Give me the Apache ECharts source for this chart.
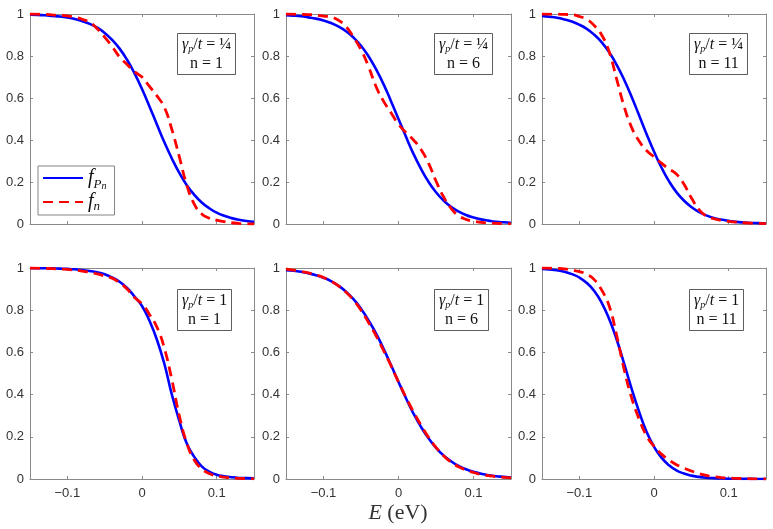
<!DOCTYPE html>
<html>
<head>
<meta charset="utf-8">
<script src="https://cdn.jsdelivr.net/npm/echarts@6/dist/echarts.min.js"></script>
<style>
  html, body { margin: 0; padding: 0; background: #fff; }
  #main { width: 773px; height: 529px; }
</style>
</head>
<body>
<div id="main"></div>
<script>
// energy grid (eV)
const E = [-0.15, -0.14, -0.13, -0.12, -0.11, -0.10, -0.09, -0.08, -0.07, -0.06, -0.05,
  -0.04, -0.03, -0.02, -0.01, 0.00, 0.01, 0.02, 0.03, 0.04, 0.05,
  0.06, 0.07, 0.08, 0.09, 0.10, 0.11, 0.12, 0.13, 0.14, 0.15];

// gamma_p/t = 1/4
const fP_quarter_n1 = [0.997, 0.996, 0.994, 0.991, 0.988, 0.983, 0.976, 0.966, 0.953, 0.935, 0.910,
  0.877, 0.835, 0.782, 0.717, 0.643, 0.560, 0.474, 0.389, 0.312, 0.243,
  0.185, 0.139, 0.102, 0.075, 0.054, 0.039, 0.028, 0.020, 0.014, 0.010];
const f_quarter_n1 = [1.0, 0.999, 0.998, 0.996, 0.994, 0.991, 0.985, 0.975, 0.96, 0.93, 0.89,
  0.845, 0.795, 0.76, 0.725, 0.70, 0.655, 0.61, 0.555, 0.45, 0.32,
  0.185, 0.095, 0.048, 0.028, 0.018, 0.011, 0.006, 0.003, 0.001, 0.0];
const fP_quarter_n6 = [0.994, 0.992, 0.989, 0.984, 0.978, 0.969, 0.957, 0.940, 0.918, 0.888, 0.849,
  0.799, 0.737, 0.666, 0.585, 0.500, 0.415, 0.334, 0.263, 0.201, 0.151,
  0.112, 0.082, 0.060, 0.043, 0.031, 0.022, 0.016, 0.011, 0.008, 0.006];
const f_quarter_n6 = [1.0, 0.999, 0.998, 0.997, 0.995, 0.99, 0.985, 0.97, 0.94, 0.89, 0.83,
  0.75, 0.655, 0.585, 0.53, 0.475, 0.435, 0.40, 0.355, 0.29, 0.205,
  0.13, 0.075, 0.04, 0.022, 0.013, 0.008, 0.005, 0.003, 0.002, 0.001];
const fP_quarter_n11 = [0.991, 0.987, 0.982, 0.974, 0.964, 0.949, 0.929, 0.901, 0.865, 0.818, 0.758,
  0.687, 0.606, 0.518, 0.429, 0.345, 0.269, 0.204, 0.152, 0.112, 0.081,
  0.058, 0.041, 0.029, 0.021, 0.015, 0.010, 0.007, 0.005, 0.004, 0.002];
const f_quarter_n11 = [1.0, 0.999, 0.999, 0.998, 0.997, 0.988, 0.975, 0.945, 0.90, 0.82, 0.69,
  0.56, 0.46, 0.395, 0.35, 0.32, 0.29, 0.262, 0.238, 0.19, 0.125,
  0.07, 0.038, 0.025, 0.018, 0.013, 0.009, 0.006, 0.004, 0.003, 0.002];

// gamma_p/t = 1
const fP_one_n1 = [1.0, 0.999, 0.999, 0.998, 0.997, 0.996, 0.994, 0.99, 0.986, 0.98, 0.97,
  0.955, 0.935, 0.905, 0.865, 0.82, 0.75, 0.66, 0.545, 0.40, 0.275,
  0.168, 0.105, 0.06, 0.035, 0.02, 0.013, 0.008, 0.005, 0.004, 0.003];
const f_one_n1 = [1.0, 0.999, 0.998, 0.997, 0.995, 0.993, 0.99, 0.985, 0.98, 0.972, 0.962,
  0.952, 0.93, 0.90, 0.86, 0.83, 0.78, 0.72, 0.62, 0.47, 0.30,
  0.17, 0.09, 0.048, 0.026, 0.015, 0.009, 0.005, 0.003, 0.002, 0.001];
const fP_one_n6 = [0.990, 0.987, 0.982, 0.975, 0.966, 0.954, 0.938, 0.916, 0.888, 0.852, 0.807,
  0.752, 0.690, 0.618, 0.540, 0.460, 0.383, 0.310, 0.247, 0.193, 0.148,
  0.112, 0.084, 0.062, 0.046, 0.034, 0.025, 0.018, 0.013, 0.010, 0.007];
const f_one_n6 = [0.995, 0.99, 0.984, 0.977, 0.967, 0.955, 0.938, 0.915, 0.885, 0.848, 0.80,
  0.742, 0.68, 0.61, 0.537, 0.46, 0.387, 0.318, 0.255, 0.198, 0.15,
  0.11, 0.08, 0.058, 0.043, 0.031, 0.022, 0.016, 0.011, 0.008, 0.006];
const fP_one_n11 = [0.996, 0.993, 0.989, 0.982, 0.971, 0.955, 0.929, 0.891, 0.835, 0.758, 0.661,
  0.547, 0.428, 0.319, 0.224, 0.153, 0.101, 0.065, 0.041, 0.026, 0.016,
  0.010, 0.006, 0.004, 0.0025, 0.0015, 0.001, 0.0006, 0.0004, 0.0002, 0.0001];
const f_one_n11 = [1.0, 0.999, 0.998, 0.996, 0.99, 0.983, 0.97, 0.945, 0.895, 0.82, 0.68,
  0.52, 0.385, 0.285, 0.205, 0.155, 0.118, 0.09, 0.068, 0.052, 0.038,
  0.026, 0.017, 0.011, 0.007, 0.005, 0.003, 0.002, 0.001, 0.0005, 0.0];

const xTicks = [-0.1, 0, 0.1];
const xTickLabels = ['\u22120.1', '0', '0.1'];

const panels = [
  {blue: fP_quarter_n1, red: f_quarter_n1, gamma: '\u00bc', n: '1'},
  {blue: fP_quarter_n6, red: f_quarter_n6, gamma: '\u00bc', n: '6'},
  {blue: fP_quarter_n11, red: f_quarter_n11, gamma: '\u00bc', n: '11'},
  {blue: fP_one_n1, red: f_one_n1, gamma: '1', n: '1'},
  {blue: fP_one_n6, red: f_one_n6, gamma: '1', n: '6'},
  {blue: fP_one_n11, red: f_one_n11, gamma: '1', n: '11'}
];

// layout of the 2x3 panels (px)
const colLeft = [30, 286, 542];
const colWidth = [224, 225, 224];
const rowTop = [14, 268];
const rowHeight = [210, 211];

const axisColor = '#8a8a8a';
const labelStyle = {fontFamily: 'Liberation Sans, Arial, sans-serif', fontSize: 13, color: '#333'};
const serif = 'Liberation Serif, DejaVu Serif, serif';

const grids = [], xAxes = [], yAxes = [], series = [], titles = [];

panels.forEach((p, i) => {
  const row = Math.floor(i / 3), col = i % 3;
  grids.push({left: colLeft[col], top: rowTop[row], width: colWidth[col], height: rowHeight[row]});
  ['bottom', 'top'].forEach((pos) => {
    xAxes.push({
      type: 'value', gridIndex: i, position: pos, min: -0.15, max: 0.15,
      axisLine: {show: true, onZero: false, lineStyle: {color: axisColor, width: 1}},
      axisTick: {show: true, inside: true, length: 3, customValues: xTicks, lineStyle: {color: axisColor}},
      axisLabel: {
        show: pos === 'bottom' && row === 1, customValues: xTicks, margin: 8, ...labelStyle,
        formatter: (v) => xTickLabels[xTicks.findIndex((t) => Math.abs(t - v) < 1e-9)]
      },
      splitLine: {show: false}
    });
  });
  ['left', 'right'].forEach((pos) => {
    yAxes.push({
      type: 'value', gridIndex: i, position: pos, min: 0, max: 1, interval: 0.2,
      axisLine: {show: true, onZero: false, lineStyle: {color: axisColor, width: 1}},
      axisTick: {show: true, inside: true, length: 3, lineStyle: {color: axisColor}},
      axisLabel: {show: pos === 'left', margin: 6, ...labelStyle},
      splitLine: {show: false}
    });
  });
  series.push({
    name: 'fPn', type: 'line', xAxisIndex: 2 * i, yAxisIndex: 2 * i, symbol: 'none', smooth: true,
    lineStyle: {color: '#0000ff', width: 2.6}, itemStyle: {color: '#0000ff'},
    data: E.map((e, k) => [e, p.blue[k]]), z: 2
  });
  series.push({
    name: 'fn', type: 'line', xAxisIndex: 2 * i, yAxisIndex: 2 * i, symbol: 'none', smooth: true,
    lineStyle: {color: '#ff0000', width: 2.8, type: [10, 6]}, itemStyle: {color: '#ff0000'},
    data: E.map((e, k) => [e, p.red[k]]), z: 3
  });
  const txt = {fontFamily: serif, fontWeight: 'normal', color: '#111', lineHeight: 19, align: 'center'};
  titles.push({
    left: colLeft[col] + colWidth[col] - 77,
    top: rowTop[row] + (row === 0 ? 18 : 20),
    text: '{g|\u03b3}{s|p}{r|/}{g|t}{r| = ' + p.gamma + '}\n{r|n = ' + p.n + '}',
    borderColor: '#333', borderWidth: 0.8, padding: [3, 5, 3, 5], backgroundColor: '#fff',
    textStyle: {
      fontWeight: 'normal',
      rich: {
        g: {...txt, fontStyle: 'italic', fontSize: 16},
        s: {...txt, fontStyle: 'italic', fontSize: 10, verticalAlign: 'bottom'},
        r: {...txt, fontSize: 16}
      }
    }
  });
});

const chart = echarts.init(document.getElementById('main'));
chart.setOption({
  animation: false,
  backgroundColor: '#fff',
  grid: grids,
  xAxis: xAxes,
  yAxis: yAxes,
  title: titles,
  legend: {
    data: ['fPn', 'fn'],
    left: 38, top: 166, orient: 'vertical',
    itemWidth: 40, itemHeight: 14, itemGap: 1,
    padding: [2, 8, 2, 4],
    borderColor: '#666', borderWidth: 0.8, backgroundColor: '#fff',
    selectedMode: false,
    itemStyle: {opacity: 0},
    formatter: (name) => (name === 'fPn' ? '{f|f}{s|P}{ss|n}' : '{f|f}{s|n}'),
    textStyle: {
      rich: {
        f: {fontFamily: serif, fontStyle: 'italic', fontSize: 20, color: '#111', lineHeight: 22},
        s: {fontFamily: serif, fontStyle: 'italic', fontSize: 13, color: '#111', lineHeight: 22, verticalAlign: 'bottom'},
        ss: {fontFamily: serif, fontStyle: 'italic', fontSize: 10, color: '#111', lineHeight: 26, verticalAlign: 'bottom'}
      }
    }
  },
  graphic: [{
    type: 'text', x: 398, y: 513,
    style: {
      text: '{i|E}{r| (eV)}', align: 'center', verticalAlign: 'middle',
      rich: {
        i: {fontFamily: serif, fontStyle: 'italic', fontSize: 22, fill: '#333'},
        r: {fontFamily: serif, fontSize: 22, fill: '#333'}
      }
    }
  }],
  series: series
});
</script>
</body>
</html>
